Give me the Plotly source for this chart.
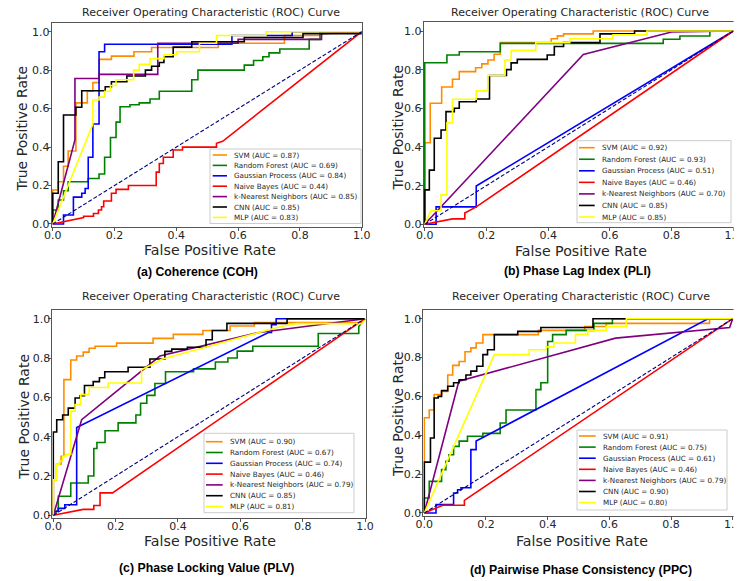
import plotly.graph_objects as go

# ---------------- data ----------------
MODELS = ["SVM", "Random Forest", "Gaussian Process", "Naive Bayes",
          "k-Nearest Neighbors", "CNN", "MLP"]
CAPTIONS = ["(a) Coherence (COH)", "(b) Phase Lag Index (PLI)",
            "(c) Phase Locking Value (PLV)", "(d) Pairwise Phase Consistency (PPC)"]
PLOT_TITLE = "Receiver Operating Characteristic (ROC) Curve"
X_LABEL = "False Positive Rate"
Y_LABEL = "True Positive Rate"
TICKS = [0.0, 0.2, 0.4, 0.6, 0.8, 1.0]
DIAG = [0.0, 1.0]

A_AUC = [0.87, 0.69, 0.84, 0.44, 0.85, 0.85, 0.83]
B_AUC = [0.92, 0.93, 0.51, 0.46, 0.70, 0.85, 0.85]
C_AUC = [0.90, 0.67, 0.74, 0.46, 0.79, 0.85, 0.81]
D_AUC = [0.91, 0.75, 0.61, 0.46, 0.79, 0.90, 0.80]

# (a) Coherence
A_SVM_FPR = [0, 0, 0.018, 0.018, 0.035, 0.035, 0.05, 0.05, 0.075, 0.075, 0.112, 0.112, 0.13, 0.13, 0.15, 0.15, 0.19, 0.19, 0.263, 0.263, 0.32, 0.32, 0.536, 0.536, 0.75, 0.75, 0.87, 0.87, 1.0]
A_SVM_TPR = [0, 0.177, 0.177, 0.22, 0.22, 0.30, 0.30, 0.38, 0.38, 0.63, 0.63, 0.69, 0.69, 0.735, 0.735, 0.856, 0.856, 0.873, 0.873, 0.896, 0.896, 0.918, 0.918, 0.94, 0.94, 0.98, 0.98, 1.0, 1.0]
A_RF_FPR = [0, 0, 0.018, 0.018, 0.035, 0.035, 0.05, 0.05, 0.115, 0.115, 0.15, 0.15, 0.168, 0.168, 0.187, 0.187, 0.205, 0.205, 0.218, 0.218, 0.25, 0.25, 0.28, 0.28, 0.315, 0.315, 0.345, 0.345, 0.45, 0.45, 0.47, 0.47, 0.62, 0.62, 0.65, 0.65, 0.68, 0.68, 0.70, 0.70, 0.735, 0.735, 0.83, 0.83, 0.865, 0.865, 1.0]
A_RF_TPR = [0, 0.073, 0.073, 0.125, 0.125, 0.173, 0.173, 0.22, 0.22, 0.237, 0.237, 0.26, 0.26, 0.347, 0.347, 0.45, 0.45, 0.53, 0.53, 0.61, 0.61, 0.62, 0.62, 0.63, 0.63, 0.65, 0.65, 0.69, 0.69, 0.75, 0.75, 0.80, 0.80, 0.826, 0.826, 0.85, 0.85, 0.87, 0.87, 0.89, 0.89, 0.91, 0.91, 0.96, 0.96, 1.0, 1.0]
A_GP_FPR = [0, 0.035, 0.035, 0.067, 0.067, 0.094, 0.094, 0.105, 0.105, 0.115, 0.115, 0.13, 0.13, 0.15, 0.15, 0.168, 0.168, 0.58, 0.58, 0.775, 0.775, 1.0]
A_GP_TPR = [0, 0, 0.047, 0.047, 0.14, 0.14, 0.16, 0.16, 0.185, 0.185, 0.347, 0.347, 0.52, 0.52, 0.896, 0.896, 0.935, 0.935, 0.98, 0.98, 1.0, 1.0]
A_NB_FPR = [0, 0.1, 0.1, 0.132, 0.132, 0.148, 0.148, 0.158, 0.158, 0.165, 0.165, 0.19, 0.19, 0.205, 0.205, 0.245, 0.245, 0.335, 0.335, 0.345, 0.345, 0.358, 0.358, 0.39, 0.39, 0.42, 0.42, 0.53, 0.53, 0.55, 1.0]
A_NB_TPR = [0, 0.033, 0.04, 0.04, 0.055, 0.055, 0.073, 0.073, 0.09, 0.09, 0.12, 0.12, 0.16, 0.16, 0.18, 0.18, 0.2, 0.2, 0.27, 0.27, 0.315, 0.315, 0.347, 0.347, 0.385, 0.385, 0.40, 0.40, 0.42, 0.43, 1.0]
A_KNN_FPR = [0, 0.072, 0.072, 0.15, 0.15, 0.34, 0.34, 0.60, 0.60, 0.87, 0.87, 1.0]
A_KNN_TPR = [0, 0.437, 0.757, 0.757, 0.778, 0.778, 0.94, 0.94, 0.96, 0.96, 0.99, 1.0]
A_CNN_FPR = [0, 0, 0.018, 0.018, 0.035, 0.035, 0.075, 0.075, 0.094, 0.094, 0.17, 0.17, 0.19, 0.19, 0.24, 0.24, 0.30, 0.30, 0.32, 0.32, 0.345, 0.345, 0.36, 0.36, 0.39, 0.39, 0.45, 0.45, 0.62, 0.62, 0.81, 0.81, 1.0, 1.0]
A_CNN_TPR = [0, 0.16, 0.16, 0.324, 0.324, 0.567, 0.567, 0.607, 0.607, 0.693, 0.693, 0.714, 0.714, 0.74, 0.74, 0.77, 0.77, 0.80, 0.80, 0.82, 0.82, 0.84, 0.84, 0.87, 0.87, 0.92, 0.92, 0.948, 0.948, 0.97, 0.97, 0.99, 0.99, 1.0]
A_MLP_FPR = [0, 0.13, 0.13, 0.15, 0.15, 0.168, 0.168, 0.187, 0.187, 0.205, 0.205, 0.262, 0.262, 0.28, 0.28, 0.315, 0.315, 0.36, 0.36, 0.40, 0.40, 0.475, 0.475, 0.53, 0.53, 0.69, 0.69, 1.0]
A_MLP_TPR = [0, 0.52, 0.645, 0.645, 0.66, 0.66, 0.69, 0.69, 0.72, 0.72, 0.75, 0.75, 0.80, 0.80, 0.83, 0.83, 0.86, 0.86, 0.88, 0.88, 0.896, 0.896, 0.94, 0.94, 0.98, 0.98, 1.0, 1.0]

# (b) Phase Lag Index
B_SVM_FPR = [0, 0, 0.018, 0.018, 0.055, 0.055, 0.09, 0.09, 0.112, 0.112, 0.165, 0.165, 0.185, 0.185, 0.205, 0.205, 0.225, 0.225, 0.245, 0.245, 0.41, 0.41, 0.43, 0.43, 0.45, 0.45, 0.546, 0.546, 1.0]
B_SVM_TPR = [0, 0.422, 0.422, 0.626, 0.626, 0.71, 0.71, 0.75, 0.75, 0.79, 0.79, 0.81, 0.81, 0.83, 0.83, 0.85, 0.85, 0.88, 0.88, 0.94, 0.94, 0.96, 0.96, 0.975, 0.975, 0.985, 0.985, 1.0, 1.0]
B_RF_FPR = [0, 0, 0.072, 0.072, 0.112, 0.112, 0.245, 0.245, 0.773, 0.773, 0.827, 0.827, 0.924, 0.924, 1.0]
B_RF_TPR = [0, 0.836, 0.836, 0.876, 0.876, 0.893, 0.893, 0.936, 0.936, 0.957, 0.957, 0.974, 0.974, 1.0, 1.0]
B_GP_FPR = [0, 0.037, 0.037, 0.167, 0.167, 1.0]
B_GP_TPR = [0, 0, 0.09, 0.09, 0.198, 1.0]
B_NB_FPR = [0, 0.09, 0.13, 0.13, 0.167, 1.0]
B_NB_TPR = [0, 0.028, 0.028, 0.058, 0.09, 1.0]
B_KNN_FPR = [0, 0.514, 0.80, 1.0]
B_KNN_TPR = [0, 0.879, 0.995, 1.0]
B_CNN_FPR = [0, 0, 0.015, 0.015, 0.031, 0.031, 0.053, 0.053, 0.069, 0.069, 0.096, 0.096, 0.112, 0.112, 0.167, 0.167, 0.21, 0.21, 0.265, 0.265, 0.28, 0.28, 0.30, 0.30, 0.397, 0.397, 0.42, 0.42, 0.45, 0.45, 0.568, 0.568, 0.68, 0.68, 1.0]
B_CNN_TPR = [0, 0.178, 0.178, 0.28, 0.28, 0.445, 0.445, 0.488, 0.488, 0.583, 0.583, 0.60, 0.60, 0.634, 0.634, 0.648, 0.648, 0.77, 0.77, 0.80, 0.80, 0.835, 0.835, 0.853, 0.853, 0.876, 0.876, 0.92, 0.92, 0.94, 0.94, 0.985, 0.985, 1.0, 1.0]
B_MLP_FPR = [0, 0.02, 0.053, 0.053, 0.072, 0.072, 0.09, 0.09, 0.167, 0.167, 0.204, 0.204, 0.26, 0.26, 0.28, 0.28, 0.36, 0.36, 0.47, 0.47, 0.61, 0.61, 0.72, 0.72, 1.0]
B_MLP_TPR = [0, 0.07, 0.07, 0.152, 0.152, 0.525, 0.525, 0.647, 0.647, 0.69, 0.69, 0.77, 0.77, 0.85, 0.85, 0.90, 0.90, 0.94, 0.94, 0.96, 0.96, 0.98, 0.98, 1.0, 1.0]

# (c) Phase Locking Value
C_SVM_FPR = [0, 0, 0.01, 0.01, 0.025, 0.025, 0.034, 0.034, 0.056, 0.056, 0.075, 0.075, 0.096, 0.096, 0.115, 0.115, 0.134, 0.134, 0.203, 0.203, 0.32, 0.32, 0.385, 0.385, 0.48, 0.48, 0.567, 0.567, 0.645, 0.645, 0.99, 1.0]
C_SVM_TPR = [0, 0.18, 0.18, 0.26, 0.26, 0.30, 0.30, 0.69, 0.69, 0.79, 0.79, 0.81, 0.81, 0.83, 0.83, 0.85, 0.85, 0.86, 0.86, 0.876, 0.876, 0.90, 0.90, 0.92, 0.92, 0.94, 0.94, 0.963, 0.963, 0.98, 0.98, 1.0]
C_RF_FPR = [0, 0.016, 0.016, 0.056, 0.056, 0.112, 0.112, 0.13, 0.13, 0.14, 0.14, 0.166, 0.166, 0.208, 0.208, 0.265, 0.265, 0.28, 0.28, 0.30, 0.30, 0.326, 0.326, 0.36, 0.36, 0.45, 0.45, 0.52, 0.52, 0.56, 0.56, 0.59, 0.59, 0.64, 0.64, 0.85, 0.85, 0.98, 0.98, 1.0]
C_RF_TPR = [0, 0.03, 0.097, 0.097, 0.164, 0.164, 0.2, 0.2, 0.34, 0.34, 0.37, 0.37, 0.43, 0.43, 0.47, 0.47, 0.51, 0.51, 0.57, 0.57, 0.61, 0.61, 0.67, 0.67, 0.73, 0.73, 0.745, 0.745, 0.78, 0.78, 0.80, 0.80, 0.835, 0.835, 0.86, 0.86, 0.925, 0.925, 0.96, 1.0]
C_GP_FPR = [0, 0, 0.016, 0.016, 0.037, 0.037, 0.075, 0.075, 0.69, 0.70, 0.70, 0.715, 0.715, 1.0]
C_GP_TPR = [0, 0.02, 0.02, 0.035, 0.035, 0.054, 0.054, 0.447, 0.93, 0.93, 0.97, 0.97, 1.0, 1.0]
C_NB_FPR = [0, 0.096, 0.13, 0.13, 0.15, 0.15, 0.19, 1.0]
C_NB_TPR = [0, 0.03, 0.03, 0.05, 0.05, 0.114, 0.114, 1.0]
C_KNN_FPR = [0, 0.091, 0.342, 0.66, 1.0]
C_KNN_TPR = [0, 0.486, 0.81, 0.93, 1.0]
C_CNN_FPR = [0, 0, 0.011, 0.011, 0.03, 0.03, 0.048, 0.048, 0.07, 0.07, 0.086, 0.086, 0.10, 0.10, 0.128, 0.128, 0.148, 0.148, 0.165, 0.165, 0.24, 0.24, 0.31, 0.31, 0.358, 0.358, 0.38, 0.38, 0.43, 0.43, 0.49, 0.49, 0.51, 0.51, 0.557, 0.557, 0.75, 0.75, 1.0]
C_CNN_TPR = [0, 0.424, 0.424, 0.486, 0.486, 0.51, 0.51, 0.545, 0.545, 0.597, 0.597, 0.608, 0.608, 0.66, 0.66, 0.68, 0.68, 0.70, 0.70, 0.73, 0.73, 0.753, 0.753, 0.795, 0.795, 0.834, 0.834, 0.845, 0.845, 0.855, 0.855, 0.893, 0.893, 0.94, 0.94, 0.976, 0.976, 1.0, 1.0]
C_MLP_FPR = [0, 0, 0.01, 0.01, 0.02, 0.02, 0.03, 0.03, 0.04, 0.04, 0.056, 0.056, 0.07, 0.07, 0.088, 0.088, 0.115, 0.115, 0.176, 0.176, 0.283, 0.283, 0.35, 0.73, 0.78, 0.99, 1.0]
C_MLP_TPR = [0, 0.18, 0.18, 0.26, 0.26, 0.275, 0.275, 0.30, 0.30, 0.31, 0.31, 0.53, 0.53, 0.563, 0.563, 0.614, 0.614, 0.65, 0.65, 0.673, 0.673, 0.74, 0.795, 0.96, 0.975, 0.975, 1.0]

# (d) Pairwise Phase Consistency
D_SVM_FPR = [0, 0, 0.016, 0.016, 0.032, 0.032, 0.056, 0.056, 0.076, 0.076, 0.092, 0.092, 0.113, 0.113, 0.132, 0.132, 0.151, 0.151, 0.168, 0.168, 0.19, 0.19, 0.37, 0.37, 0.52, 0.52, 0.59, 0.59, 0.925, 0.925, 1.0]
D_SVM_TPR = [0, 0.49, 0.49, 0.53, 0.53, 0.61, 0.61, 0.626, 0.626, 0.71, 0.71, 0.76, 0.76, 0.78, 0.78, 0.83, 0.83, 0.85, 0.85, 0.875, 0.875, 0.918, 0.918, 0.94, 0.94, 0.96, 0.96, 0.976, 0.976, 1.0, 1.0]
D_RF_FPR = [0, 0, 0.016, 0.016, 0.056, 0.056, 0.07, 0.07, 0.08, 0.08, 0.095, 0.095, 0.113, 0.113, 0.14, 0.14, 0.19, 0.19, 0.246, 0.246, 0.265, 0.265, 0.362, 0.362, 0.378, 0.378, 0.4, 0.4, 0.416, 0.416, 0.46, 0.46, 0.55, 0.55, 0.61, 0.61, 1.0]
D_RF_TPR = [0, 0.077, 0.077, 0.163, 0.163, 0.223, 0.223, 0.266, 0.266, 0.3, 0.3, 0.343, 0.343, 0.37, 0.37, 0.395, 0.395, 0.41, 0.41, 0.463, 0.463, 0.53, 0.53, 0.635, 0.635, 0.67, 0.67, 0.883, 0.883, 0.918, 0.918, 0.94, 0.94, 0.976, 0.976, 1.0, 1.0]
D_GP_FPR = [0, 0.038, 0.038, 0.095, 0.095, 0.108, 0.108, 0.119, 0.119, 0.151, 0.151, 0.168, 0.168, 0.92, 1.0]
D_GP_TPR = [0, 0, 0.043, 0.043, 0.103, 0.103, 0.12, 0.12, 0.13, 0.13, 0.326, 0.326, 0.37, 1.0, 1.0]
D_NB_FPR = [0, 0.06, 0.13, 0.13, 1.0]
D_NB_TPR = [0, 0.04, 0.04, 0.065, 1.0]
D_KNN_FPR = [0, 0.112, 0.62, 0.99, 1.0]
D_KNN_TPR = [0, 0.678, 0.90, 0.955, 1.0]
D_CNN_FPR = [0, 0, 0.02, 0.02, 0.032, 0.032, 0.045, 0.045, 0.056, 0.056, 0.076, 0.076, 0.095, 0.095, 0.113, 0.113, 0.135, 0.135, 0.151, 0.151, 0.17, 0.17, 0.19, 0.19, 0.205, 0.205, 0.227, 0.227, 0.303, 0.303, 0.378, 0.378, 0.547, 0.547, 1.0]
D_CNN_TPR = [0, 0.262, 0.262, 0.386, 0.386, 0.592, 0.592, 0.60, 0.60, 0.63, 0.63, 0.652, 0.652, 0.67, 0.67, 0.686, 0.686, 0.71, 0.71, 0.73, 0.73, 0.755, 0.755, 0.815, 0.815, 0.84, 0.84, 0.918, 0.918, 0.935, 0.935, 0.955, 0.955, 1.0, 1.0]
D_MLP_FPR = [0, 0.227, 0.34, 0.34, 0.395, 0.395, 0.42, 0.42, 0.49, 0.49, 0.53, 0.53, 0.59, 0.59, 0.655, 0.655, 1.0]
D_MLP_TPR = [0, 0.815, 0.815, 0.84, 0.84, 0.855, 0.855, 0.875, 0.875, 0.92, 0.92, 0.94, 0.94, 0.96, 0.96, 1.0, 1.0]

# ---------------- styling ----------------
COLORS = ["darkorange", "green", "blue", "red", "purple", "black", "yellow"]
W, H = 746, 581
FONT = "DejaVu Sans"
CAP_FONT = "Liberation Sans"
TXT = "#262626"

PANELS = [
    dict(fpr=[A_SVM_FPR, A_RF_FPR, A_GP_FPR, A_NB_FPR, A_KNN_FPR, A_CNN_FPR, A_MLP_FPR],
         tpr=[A_SVM_TPR, A_RF_TPR, A_GP_TPR, A_NB_TPR, A_KNN_TPR, A_CNN_TPR, A_MLP_TPR],
         auc=A_AUC),
    dict(fpr=[B_SVM_FPR, B_RF_FPR, B_GP_FPR, B_NB_FPR, B_KNN_FPR, B_CNN_FPR, B_MLP_FPR],
         tpr=[B_SVM_TPR, B_RF_TPR, B_GP_TPR, B_NB_TPR, B_KNN_TPR, B_CNN_TPR, B_MLP_TPR],
         auc=B_AUC),
    dict(fpr=[C_SVM_FPR, C_RF_FPR, C_GP_FPR, C_NB_FPR, C_KNN_FPR, C_CNN_FPR, C_MLP_FPR],
         tpr=[C_SVM_TPR, C_RF_TPR, C_GP_TPR, C_NB_TPR, C_KNN_TPR, C_CNN_TPR, C_MLP_TPR],
         auc=C_AUC),
    dict(fpr=[D_SVM_FPR, D_RF_FPR, D_GP_FPR, D_NB_FPR, D_KNN_FPR, D_CNN_FPR, D_MLP_FPR],
         tpr=[D_SVM_TPR, D_RF_TPR, D_GP_TPR, D_NB_TPR, D_KNN_TPR, D_CNN_TPR, D_MLP_TPR],
         auc=D_AUC),
]

# pixel geometry of each panel (value 0 / value 1 positions), text anchors, legend boxes
GEOM = [
    dict(x0=52.7, x1=361.7, y0=224.0, y1=31.7, xmax=1.0,
         title=(211, 12.7), xlab=(210, 249.5), ylab=(21.7, 128.8), cap=(197.5, 272),
         leg=(210, 149, 361, 223.5), row0=155.0, rstep=10.4, lx=(212.7, 227.0), tx=232.0),
    dict(x0=424.7, x1=733.3, y0=224.3, y1=31.0, xmax=1.022,
         title=(579.5, 12.7), xlab=(581, 251), ylab=(398, 127.5), cap=(577.5, 270.5),
         leg=(577, 140.7, 731, 222.7), row0=147.7, rstep=11.55, lx=(579.0, 594.7), tx=600.3),
    dict(x0=53.3, x1=365.0, y0=515.3, y1=318.7, xmax=1.003,
         title=(211, 296.7), xlab=(210, 541), ylab=(24, 416.7), cap=(206, 568),
         leg=(204, 433.3, 354, 512.7), row0=441.7, rstep=10.8, lx=(206.0, 222.7), tx=228.3),
    dict(x0=424.3, x1=732.7, y0=513.0, y1=318.7, xmax=1.022,
         title=(581, 296.7), xlab=(581.7, 540.5), ylab=(398, 414), cap=(581, 570),
         leg=(577, 430, 727, 510), row0=436.0, rstep=11.1, lx=(579.0, 595.7), tx=601.3),
]
YR = [-0.015, 1.045]


def fx(px):
    return px / W


def fy(py):
    return 1 - py / H


fig = go.Figure()
layout = dict(width=W, height=H,
              margin=dict(l=0, r=0, t=0, b=0, pad=0, autoexpand=False),
              paper_bgcolor="white", plot_bgcolor="white", showlegend=False)
shapes = []
annotations = []

for i, (p, g) in enumerate(zip(PANELS, GEOM)):
    s = "" if i == 0 else str(i + 1)
    xr = [-0.003, g["xmax"]]
    ux = g["x1"] - g["x0"]
    uy = g["y1"] - g["y0"]
    xd = [max(0, fx(g["x0"] + xr[0] * ux)), min(1, fx(g["x0"] + xr[1] * ux))]
    yd = [max(0, fy(g["y0"] + YR[0] * uy)), min(1, fy(g["y0"] + YR[1] * uy))]
    axcommon = dict(showline=True, mirror=True, linecolor="#555", linewidth=1,
                    ticks="outside", ticklen=3, tickcolor="#555", tickwidth=1,
                    tickvals=TICKS, tickformat=".1f", showgrid=False, zeroline=False,
                    automargin=False,
                    tickfont=dict(family=FONT, size=11, color=TXT), fixedrange=True)
    layout["xaxis" + s] = dict(domain=xd, range=xr, anchor="y" + s,
                               ticklabelstandoff=-5, **axcommon)
    layout["yaxis" + s] = dict(domain=yd, range=YR, anchor="x" + s,
                               ticklabelstandoff=-4, **axcommon)

    for k in range(len(MODELS)):
        fig.add_trace(go.Scatter(x=p["fpr"][k], y=p["tpr"][k], mode="lines",
                                 name=f"{MODELS[k]} (AUC = {p['auc'][k]:.2f})",
                                 line=dict(color=COLORS[k], width=1.6),
                                 xaxis="x" + s, yaxis="y" + s, hoverinfo="skip"))
    fig.add_trace(go.Scatter(x=DIAG, y=DIAG, mode="lines",
                             line=dict(color="navy", width=1.1, dash="4px,2px"),
                             xaxis="x" + s, yaxis="y" + s, hoverinfo="skip"))

    # texts
    annotations.append(dict(text=PLOT_TITLE, x=fx(g["title"][0]), y=fy(g["title"][1]),
                            xref="paper", yref="paper", showarrow=False,
                            xanchor="center", yanchor="middle",
                            font=dict(family=FONT, size=11, color=TXT)))
    annotations.append(dict(text=X_LABEL, x=fx(g["xlab"][0]), y=fy(g["xlab"][1]),
                            xref="paper", yref="paper", showarrow=False,
                            xanchor="center", yanchor="middle",
                            font=dict(family=FONT, size=14.2, color=TXT)))
    annotations.append(dict(text=Y_LABEL, x=fx(g["ylab"][0]), y=fy(g["ylab"][1]),
                            xref="paper", yref="paper", showarrow=False, textangle=-90,
                            xanchor="center", yanchor="middle",
                            font=dict(family=FONT, size=14, color=TXT)))
    annotations.append(dict(text=CAPTIONS[i], x=fx(g["cap"][0]), y=fy(g["cap"][1]),
                            xref="paper", yref="paper", showarrow=False,
                            xanchor="center", yanchor="middle",
                            font=dict(family=CAP_FONT, size=12.3, color="black", weight="bold")))

    # legend box
    lx0, ly0, lx1, ly1 = g["leg"]
    shapes.append(dict(type="rect", xref="paper", yref="paper",
                       x0=fx(lx0), x1=fx(lx1), y0=fy(ly1), y1=fy(ly0),
                       fillcolor="rgba(255,255,255,0.9)", line=dict(color="#cccccc", width=1),
                       layer="above"))
    for k in range(len(MODELS)):
        ry = g["row0"] + k * g["rstep"]
        shapes.append(dict(type="line", xref="paper", yref="paper",
                           x0=fx(g["lx"][0]), x1=fx(g["lx"][1]), y0=fy(ry), y1=fy(ry),
                           line=dict(color=COLORS[k], width=1.6), layer="above"))
        annotations.append(dict(text=f"{MODELS[k]} (AUC = {p['auc'][k]:.2f})",
                                x=fx(g["tx"]), y=fy(ry), xref="paper", yref="paper",
                                showarrow=False, xanchor="left", yanchor="middle",
                                font=dict(family=FONT, size=7.2, color=TXT)))

# right-hand strip of the source image is blank (panels b and d are cut)
shapes.append(dict(type="rect", xref="paper", yref="paper", x0=fx(733.6), x1=1.0,
                   y0=0, y1=1, fillcolor="white", line=dict(width=0), layer="above"))

layout["shapes"] = shapes
layout["annotations"] = annotations
fig.update_layout(**layout)
fig.write_html("out.html", config={"displayModeBar": False},
               post_script="document.body.style.margin='0';document.body.style.padding='0';")
